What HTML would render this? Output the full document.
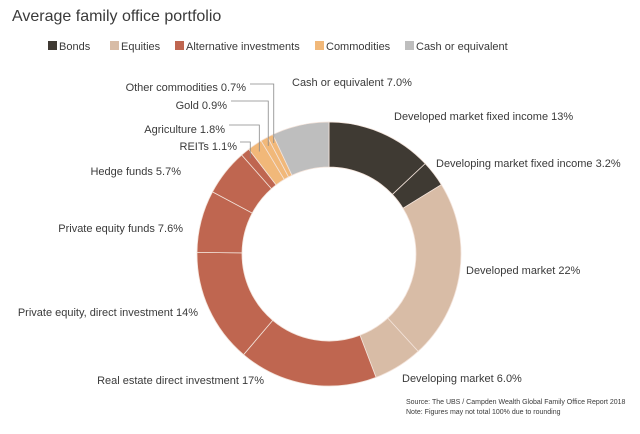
<!DOCTYPE html>
<html><head><meta charset="utf-8"><style>
body{margin:0;background:#fff;font-family:"Liberation Sans",sans-serif;}
svg text{font-family:"Liberation Sans",sans-serif;fill:#3a3a3a;}
</style></head><body>
<svg width="640" height="429" viewBox="0 0 640 429">
<text x="12" y="21" font-size="16">Average family office portfolio</text>
<g id="legend"></g>
<g id="donut"></g>
<g id="labels"></g>
<text x="406" y="404" font-size="7">Source: The UBS / Campden Wealth Global Family Office Report 2018</text>
<text x="406" y="414" font-size="7">Note: Figures may not total 100% due to rounding</text>
</svg>
<script>
const categories=["Developed market fixed income","Developing market fixed income","Developed market","Developing market","Real estate direct investment","Private equity, direct investment","Private equity funds","Hedge funds","REITs","Agriculture","Gold","Other commodities","Cash or equivalent"];
const values=[13,3.2,22,6.0,17,14,7.6,5.7,1.1,1.8,0.9,0.7,7.0];
const groups=["Bonds","Bonds","Equities","Equities","Alt","Alt","Alt","Alt","Alt","Comm","Comm","Comm","Cash"];
const legendNames=["Bonds","Equities","Alternative investments","Commodities","Cash or equivalent"];
const legendKeys=["Bonds","Equities","Alt","Comm","Cash"];
const colors={Bonds:"#3f3a33",Equities:"#d8bca6",Alt:"#bf6650",Comm:"#f1b879",Cash:"#bebebe"};
const valueLabels=["13%","3.2%","22%","6.0%","17%","14%","7.6%","5.7%","1.1%","1.8%","0.9%","0.7%","7.0%"];
const NS="http://www.w3.org/2000/svg";
const cx=329,cy=254,R=132,r=87;
function mk(t,a,p){const e=document.createElementNS(NS,t);for(const k in a)e.setAttribute(k,a[k]);p.appendChild(e);return e;}
const lx=[48,110,175,315,405];
const lg=document.getElementById('legend');
legendNames.forEach((n,i)=>{
 const s=mk('rect',{x:lx[i],y:41,width:9,height:9,fill:colors[legendKeys[i]]},lg);
 
 
 const t=mk('text',{x:lx[i]+11,y:50,'font-size':11},lg);t.textContent=n;
 
 
});
const total=values.reduce((a,b)=>a+b,0);
function ang(v){return v/total*2*Math.PI;}
function pt(a,rad){return [cx+rad*Math.sin(a),cy-rad*Math.cos(a)];}
const dg=document.getElementById('donut');
let acc=0;const mids=[];
values.forEach((v,i)=>{
 const a0=ang(acc),a1=ang(acc+v);acc+=v;mids.push((a0+a1)/2);
 const [x0,y0]=pt(a0,R),[x1,y1]=pt(a1,R),[x2,y2]=pt(a1,r),[x3,y3]=pt(a0,r);
 const lf=(a1-a0)>Math.PI?1:0;
 const p=mk('path',{d:`M${x0},${y0}A${R},${R} 0 ${lf} 1 ${x1},${y1}L${x2},${y2}A${r},${r} 0 ${lf} 0 ${x3},${y3}Z`,fill:colors[groups[i]],stroke:"#f3e3da","stroke-width":0.8},dg);
 
 
});
const lpos=[[394,120,'start'],[436,167,'start'],[466,274,'start'],[402,382,'start'],[264,384,'end'],[198,316,'end'],[183,232,'end'],[181,175,'end'],[237,150,'end'],[225,133,'end'],[227,109,'end'],[246,91,'end'],[292,86,'start']];
const lab=document.getElementById('labels');
categories.forEach((c,i)=>{
 const t=mk('text',{x:lpos[i][0],y:lpos[i][1],'font-size':11,'text-anchor':lpos[i][2]},lab);
 t.textContent=c+" "+valueLabels[i];
 
 
});
const lead=[[8,240,146],[9,229,129],[10,231,105],[11,250,88]];
lead.forEach(([i,x,y])=>{
 const [px,py]=pt(mids[i],R-8);
 const l=mk('polyline',{points:`${x},${y-4} ${px},${y-4} ${px},${py}`,fill:"none",stroke:"#888","stroke-width":0.8},lab);
 
 
});
</script>
</body></html>
